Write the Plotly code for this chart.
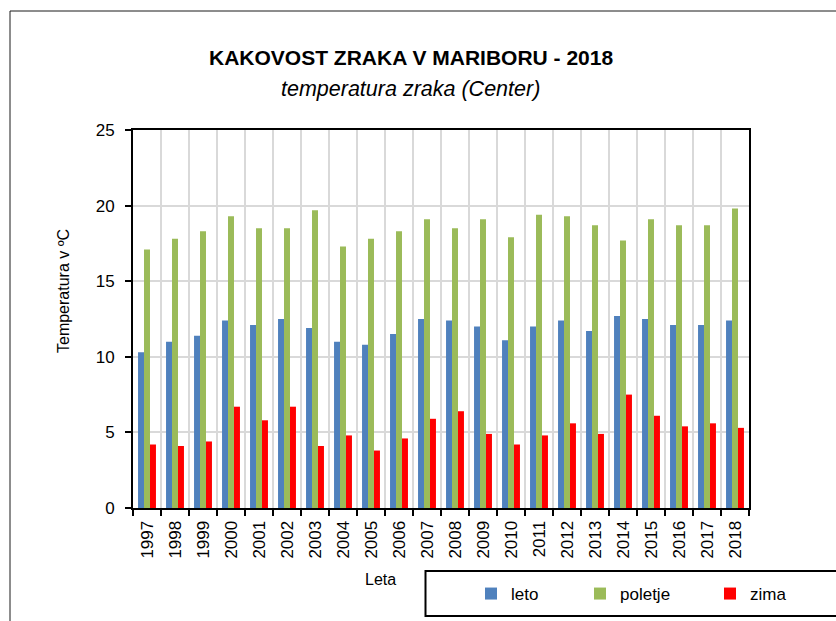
import plotly.graph_objects as go

# Letne povprečne temperature zraka, Maribor Center
leta = [str(y) for y in range(1997, 2019)]
leto = [10.3, 11.0, 11.4, 12.4, 12.1, 12.5, 11.9, 11.0, 10.8, 11.5, 12.5,
        12.4, 12.0, 11.1, 12.0, 12.4, 11.7, 12.7, 12.5, 12.1, 12.1, 12.4]
poletje = [17.1, 17.8, 18.3, 19.3, 18.5, 18.5, 19.7, 17.3, 17.8, 18.3, 19.1,
           18.5, 19.1, 17.9, 19.4, 19.3, 18.7, 17.7, 19.1, 18.7, 18.7, 19.8]
zima = [4.2, 4.1, 4.4, 6.7, 5.8, 6.7, 4.1, 4.8, 3.8, 4.6, 5.9,
        6.4, 4.9, 4.2, 4.8, 5.6, 4.9, 7.5, 6.1, 5.4, 5.6, 5.3]

y_ticks = [0, 5, 10, 15, 20, 25]

FONT = "Liberation Sans, Arial, sans-serif"
FIG_W, FIG_H = 836, 621

# each series gets its own legend entry box so the entries can be spaced freely
series = [("leto", leto, "#4f81bd", "legend", 471),
          ("poletje", poletje, "#9bbb59", "legend2", 580),
          ("zima", zima, "#ff0000", "legend3", 710)]

fig = go.Figure()
for name, vals, col, leg, _ in series:
    fig.add_trace(go.Bar(x=leta, y=vals, name=name, marker_color=col,
                         marker_line_width=0, legend=leg))

# plot area in pixels: x 133..749, y 130..508
L, R, T, B = 133, 749, 130, 508
W, H = R - L, B - T


def px(x):
    return (x - L) / W


def py(y):
    return (B - y) / H


legends = {}
for _, _, _, leg, lx in series:
    legends[leg] = dict(orientation="h", xref="container", yref="container",
                        x=lx / FIG_W, y=1 - 594 / FIG_H, xanchor="left",
                        yanchor="middle", itemwidth=30,
                        font=dict(family=FONT, size=17, color="black"),
                        bgcolor="rgba(0,0,0,0)")

fig.update_layout(
    width=FIG_W, height=FIG_H,
    margin=dict(l=L, r=FIG_W - R, t=T, b=FIG_H - B),
    paper_bgcolor="white", plot_bgcolor="white",
    barmode="group", bargap=0.36, bargroupgap=0,
    font=dict(family=FONT, size=17, color="black"),
    showlegend=True,
    **legends,
    xaxis=dict(type="category", tickson="boundaries", showgrid=True,
               gridcolor="#d9d9d9", gridwidth=1.5, automargin=False,
               ticks="outside", ticklen=6, tickwidth=2, tickcolor="black",
               tickangle=-90, ticklabelstandoff=4,
               tickfont=dict(family=FONT, size=17, color="black"),
               showline=True, linecolor="black", linewidth=2, mirror=True),
    yaxis=dict(range=[0, 25], tickvals=y_ticks, showgrid=True,
               gridcolor="#d9d9d9", gridwidth=1.5, automargin=False,
               ticks="outside", ticklen=6, tickwidth=2, tickcolor="black",
               ticklabelstandoff=7,
               tickfont=dict(family=FONT, size=17, color="black"),
               showline=True, linecolor="black", linewidth=2, mirror=True,
               zeroline=False),
    annotations=[
        dict(text="<b>KAKOVOST ZRAKA V MARIBORU - 2018</b>", x=px(410.5),
             y=py(57), xref="paper", yref="paper", showarrow=False,
             xanchor="center", yanchor="middle",
             font=dict(family=FONT, size=21, color="black")),
        dict(text="<i>temperatura zraka (Center)</i>", x=px(410.5),
             y=py(89), xref="paper", yref="paper", showarrow=False,
             xanchor="center", yanchor="middle",
             font=dict(family=FONT, size=21.5, color="black")),
        dict(text="Temperatura v ºC", textangle=-90, x=px(63), y=py(291),
             xref="paper", yref="paper", showarrow=False,
             xanchor="center", yanchor="middle",
             font=dict(family=FONT, size=16, color="black")),
        dict(text="Leta", x=px(380), y=py(579), xref="paper", yref="paper",
             showarrow=False, xanchor="center", yanchor="middle",
             font=dict(family=FONT, size=16, color="black")),
    ],
    shapes=[
        # outer chart frame
        dict(type="rect", xref="paper", yref="paper", x0=px(10), x1=px(900),
             y0=py(700), y1=py(11), line=dict(color="#1a1a1a", width=1),
             layer="below"),
        # legend box
        dict(type="rect", xref="paper", yref="paper", x0=px(425.5),
             x1=px(900), y0=py(616), y1=py(571),
             line=dict(color="black", width=2)),
    ],
)

fig.write_html("out.html")
